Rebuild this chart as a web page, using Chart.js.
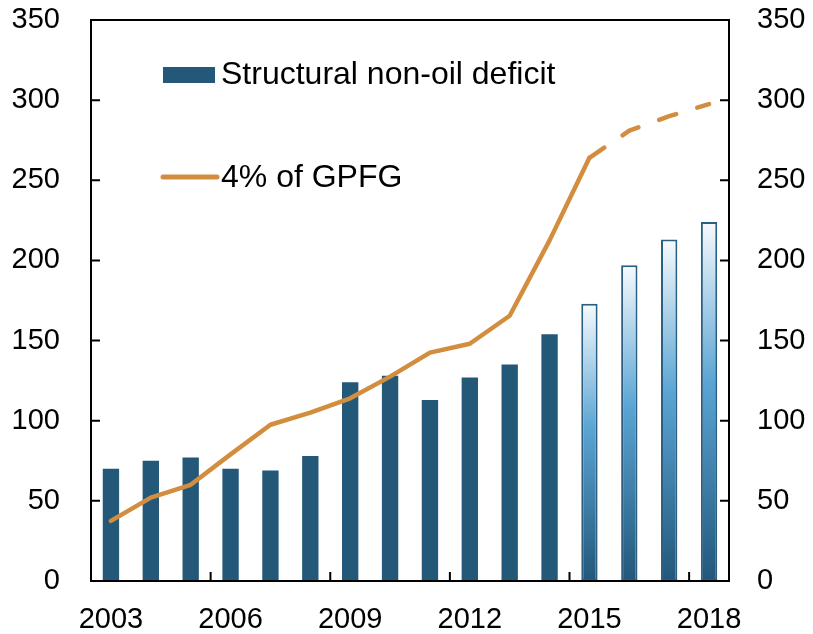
<!DOCTYPE html>
<html>
<head>
<meta charset="utf-8">
<script src="https://cdn.jsdelivr.net/npm/chart.js@4.4.1/dist/chart.umd.min.js"></script>
<style>
  html, body { margin: 0; padding: 0; background: #fff; }
  #wrap { width: 813px; height: 634px; }
</style>
</head>
<body>
<div id="wrap"><canvas id="chart" width="813" height="634"></canvas></div>
<script>
var years = ["2003","2004","2005","2006","2007","2008","2009","2010","2011","2012","2013","2014","2015","2016","2017","2018"];
var deficit = [70, 75, 77, 70, 69, 78, 124, 128, 113, 127, 135, 154, 173, 197, 213, 224];
var gpfg4 = [37.5, 52, 60, 79, 97.5, 105, 114, 127.5, 142.5, 148, 165.5, 212.5, 264, 281, 290, 297.5];
var yTicks = [0, 50, 100, 150, 200, 250, 300, 350];
var firstForecast = 12; // 2015 onwards is projection

var solidBlue = "#235878";
var orange = "#D38D3F";
var font = { family: "'Liberation Sans', Arial, sans-serif", size: 29 };

function barFill(ctx) {
  var i = ctx.dataIndex;
  if (i < firstForecast) return solidBlue;
  var chart = ctx.chart;
  if (!chart.chartArea) return solidBlue;
  var ys = chart.scales.y;
  var top = ys.getPixelForValue(deficit[i]);
  var bot = ys.getPixelForValue(0);
  var g = chart.ctx.createLinearGradient(0, top, 0, bot);
  g.addColorStop(0, "#f7fafd");
  g.addColorStop(0.45, "#5aa4d3");
  g.addColorStop(1, "#22577a");
  return g;
}

function noPad(s) {
  s.paddingTop = 0; s.paddingBottom = 0; s.paddingLeft = 0; s.paddingRight = 0;
}

// box, inward tick marks and legend
var decor = {
  id: "decor",
  afterDatasetsDraw: function(chart) {
    var c = chart.ctx, a = chart.chartArea;
    var ys = chart.scales.y, xs = chart.scales.x;
    c.save();
    c.strokeStyle = "#000";
    c.lineWidth = 2;
    c.strokeRect(a.left, a.top, a.right - a.left, a.bottom - a.top);
    c.beginPath();
    yTicks.forEach(function(v) {
      var y = ys.getPixelForValue(v);
      c.moveTo(a.left, y); c.lineTo(a.left + 9, y);
      c.moveTo(a.right, y); c.lineTo(a.right - 9, y);
    });
    for (var i = 3; i < years.length; i += 3) {
      var x = (xs.getPixelForValue(i - 1) + xs.getPixelForValue(i)) / 2;
      c.moveTo(x, a.bottom); c.lineTo(x, a.bottom - 9);
    }
    c.stroke();

    // legend
    var lx = a.left + 72;
    c.fillStyle = solidBlue;
    c.fillRect(lx, a.top + 47, 52, 16);
    c.strokeStyle = orange;
    c.lineWidth = 5;
    c.lineCap = "round";
    c.beginPath();
    c.moveTo(lx, a.top + 157); c.lineTo(lx + 54, a.top + 157);
    c.stroke();
    c.fillStyle = "#000";
    c.font = "32px 'Liberation Sans', Arial, sans-serif";
    c.textBaseline = "middle";
    c.fillText("Structural non-oil deficit", lx + 58, a.top + 55);
    c.fillText("4% of GPFG", lx + 58, a.top + 158);
    c.restore();
  }
};

new Chart(document.getElementById("chart"), {
  data: {
    labels: years,
    datasets: [
      {
        type: "line",
        label: "4% of GPFG",
        data: gpfg4,
        borderColor: orange,
        borderWidth: 4.5,
        tension: 0,
        pointRadius: 0,
        borderCapStyle: "round",
        borderJoinStyle: "round",
        segment: {
          borderDash: function(ctx) { return ctx.p0DataIndex >= firstForecast ? [18, 22] : undefined; }
        },
        order: 0
      },
      {
        type: "bar",
        label: "Structural non-oil deficit",
        data: deficit,
        backgroundColor: barFill,
        borderColor: function(ctx) { return ctx.dataIndex >= firstForecast ? "#2b5f82" : solidBlue; },
        borderWidth: function(ctx) { return ctx.dataIndex >= firstForecast ? 2 : 0; },
        borderSkipped: false,
        categoryPercentage: 1,
        barPercentage: 0.41,
        order: 1
      }
    ]
  },
  options: {
    responsive: false,
    animation: false,
    layout: { padding: { top: 20, left: 0, right: 0, bottom: 0 } },
    plugins: { legend: { display: false }, tooltip: { enabled: false } },
    scales: {
      x: {
        offset: true,
        grid: { display: false },
        border: { display: false },
        ticks: {
          color: "#000", font: font, padding: 14, autoSkip: false, maxRotation: 0,
          callback: function(v, i) { return i % 3 === 0 ? years[i] : ""; }
        },
        afterFit: function(s) { s.height = 53; noPad(s); }
      },
      y: {
        position: "left",
        min: 0, max: 350,
        grid: { display: false },
        border: { display: false },
        ticks: { color: "#000", font: font, padding: 23, stepSize: 50 },
        afterFit: function(s) { s.width = 91; noPad(s); }
      },
      y2: {
        position: "right",
        min: 0, max: 350,
        grid: { display: false },
        border: { display: false },
        ticks: { color: "#000", font: font, padding: 20, stepSize: 50 },
        afterFit: function(s) { s.width = 84; noPad(s); }
      }
    }
  },
  plugins: [decor]
});
</script>
</body>
</html>
